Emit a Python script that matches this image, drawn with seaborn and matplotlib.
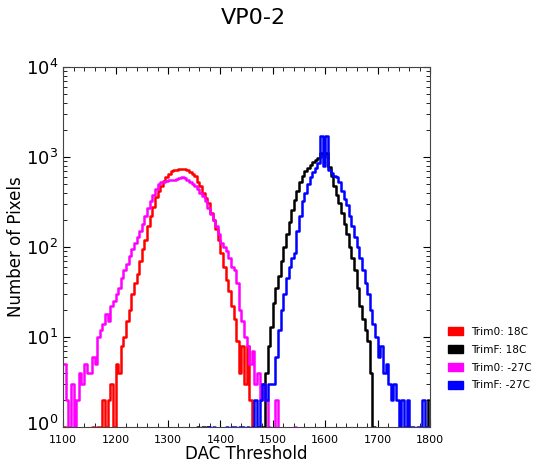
import numpy as np
import pandas as pd
import matplotlib
matplotlib.use("Agg")
import matplotlib.pyplot as plt
import matplotlib.transforms as mtransforms
from matplotlib.patches import Patch
from matplotlib.ticker import MultipleLocator, LogLocator, NullFormatter, FixedLocator
import seaborn as sns

# bin left edges (DAC), 5-DAC bins from 1100 to 1795
bin_start = 1100
bin_width = 5

trim0_18C = [
    1, 0, 0, 0, 0, 0, 0, 0, 0, 0,          # 1100-1145
    0, 1, 0, 1, 0, 2, 1, 2, 3, 1,          # 1150-1195
    5, 4, 8, 10, 15, 20, 30, 40, 50, 70,   # 1200-1245
    95, 120, 170, 220, 280, 360, 420, 480, 540, 600,   # 1250-1295
    650, 700, 720, 710, 730, 740, 740, 720, 680, 650,  # 1300-1345
    620, 530, 470, 400, 350, 310, 240, 200, 160, 120,  # 1350-1395
    86, 60, 43, 32, 22, 16, 9, 4, 8, 3,    # 1400-1445
    8, 2, 1, 0, 0, 0, 0, 0, 0, 0,          # 1450-1495
    0, 0, 0, 0, 0, 0, 0, 0, 0, 0,          # 1500-1545
    0, 0, 0, 0, 0, 0, 0, 0, 0, 0,          # 1550-1595
    0, 0, 0, 0, 0, 0, 0, 0, 0, 0,          # 1600-1645
    0, 0, 0, 0, 0, 0, 0, 0, 0, 0,          # 1650-1695
    0, 0, 0, 0, 0, 0, 0, 0, 0, 0,          # 1700-1745
    0, 0, 0, 0, 0, 0, 0, 0, 0, 0,          # 1750-1795
]

trimF_18C = [
    0, 0, 0, 0, 0, 0, 0, 0, 0, 0,          # 1100-1145
    0, 0, 0, 0, 0, 0, 0, 0, 0, 0,          # 1150-1195
    0, 0, 0, 0, 0, 0, 0, 0, 0, 0,          # 1200-1245
    0, 0, 0, 0, 0, 0, 0, 0, 0, 0,          # 1250-1295
    0, 0, 0, 0, 0, 0, 0, 0, 0, 0,          # 1300-1345
    0, 1, 0, 1, 0, 1, 0, 0, 0, 0,          # 1350-1395
    0, 0, 0, 0, 0, 0, 0, 0, 0, 0,          # 1400-1445
    0, 0, 0, 0, 1, 0, 1, 4, 8, 13,         # 1450-1495
    24, 35, 48, 70, 100, 140, 190, 260, 330, 420,      # 1500-1545
    520, 620, 700, 760, 820, 880, 920, 980, 1100, 1000, # 1550-1595
    1100, 780, 620, 480, 380, 310, 240, 180, 140, 100,  # 1600-1645
    75, 55, 35, 22, 16, 12, 9, 4, 1, 0,    # 1650-1695
    0, 0, 0, 0, 0, 0, 0, 0, 0, 0,          # 1700-1745
    0, 0, 0, 0, 0, 0, 0, 0, 0, 2,          # 1750-1795
]

trim0_m27C = [
    5, 2, 1, 3, 1, 2, 4, 3, 5, 4,          # 1100-1145
    4, 6, 5, 10, 12, 14, 18, 15, 22, 25,   # 1150-1195
    30, 35, 45, 55, 65, 80, 95, 110, 130, 150,         # 1200-1245
    180, 220, 270, 320, 380, 440, 500, 520, 530, 540,  # 1250-1295
    550, 560, 560, 570, 580, 600, 590, 560, 530, 500,  # 1300-1345
    470, 440, 400, 370, 320, 270, 230, 200, 170, 140,  # 1350-1395
    110, 100, 90, 75, 60, 55, 40, 20, 15, 10,          # 1400-1445
    8, 5, 7, 3, 4, 2, 3, 2, 1, 0,          # 1450-1495
    0, 2, 0, 0, 0, 0, 0, 0, 1, 0,          # 1500-1545
    0, 0, 0, 0, 0, 0, 0, 0, 0, 0,          # 1550-1595
    0, 0, 0, 0, 0, 0, 0, 0, 0, 0,          # 1600-1645
    0, 0, 0, 0, 0, 0, 0, 0, 0, 0,          # 1650-1695
    0, 0, 0, 0, 0, 0, 0, 0, 0, 0,          # 1700-1745
    0, 0, 0, 0, 0, 0, 0, 0, 0, 0,          # 1750-1795
]

trimF_m27C = [
    0, 0, 0, 0, 0, 0, 0, 0, 0, 0,          # 1100-1145
    0, 0, 0, 0, 0, 0, 0, 0, 0, 0,          # 1150-1195
    0, 0, 0, 0, 0, 0, 0, 0, 0, 0,          # 1200-1245
    0, 0, 0, 0, 0, 0, 0, 0, 0, 0,          # 1250-1295
    0, 0, 0, 0, 0, 0, 0, 0, 0, 0,          # 1300-1345
    0, 0, 0, 0, 0, 1, 0, 1, 0, 0,          # 1350-1395
    0, 0, 1, 0, 1, 1, 0, 1, 1, 0,          # 1400-1445
    1, 0, 1, 2, 1, 2, 3, 2, 3, 3,          # 1450-1495
    3, 6, 12, 20, 30, 45, 60, 75, 85, 150, # 1500-1545
    220, 320, 400, 500, 600, 680, 760, 850, 1700, 800,  # 1550-1595
    1700, 720, 660, 620, 600, 520, 420, 340, 290, 220,  # 1600-1645
    170, 130, 100, 75, 55, 40, 30, 20, 14, 10,          # 1650-1695
    6, 8, 4, 5, 3, 2, 3, 2, 1, 2,          # 1700-1745
    1, 2, 1, 1, 0, 1, 1, 2, 1, 0,          # 1750-1795
]

series_labels = ["Trim0: 18C", "TrimF: 18C", "Trim0: -27C", "TrimF: -27C"]
series_colors = ["#ff0000", "#000000", "#ff00ff", "#0000ff"]
series_values = [trim0_18C, trimF_18C, trim0_m27C, trimF_m27C]

x_ticks = [1100, 1200, 1300, 1400, 1500, 1600, 1700, 1800]
y_ticks = [1, 10, 100, 1000, 10000]

dac = bin_start + bin_width * np.arange(len(trim0_18C))

fig = plt.figure(figsize=(5.35, 4.65), dpi=100)
ax = fig.add_axes([0.118, 0.082, 0.686, 0.774])

for lab, col, vals in zip(series_labels, series_colors, series_values):
    df = pd.DataFrame({"DAC": dac, "count": np.asarray(vals, dtype=float)})
    sns.lineplot(data=df, x="DAC", y="count", ax=ax, color=col, lw=1.8,
                 drawstyle="steps-post", legend=False)

ax.set_yscale("log")
ax.set_ylim(1, 1e4)
ax.set_xlim(1100, 1800)
ax.set_xticks(x_ticks)
ax.set_xticklabels([str(t) for t in x_ticks], fontsize=8)
ax.yaxis.set_major_locator(FixedLocator(y_ticks))
ax.xaxis.set_minor_locator(MultipleLocator(20))
ax.yaxis.set_minor_locator(LogLocator(base=10, subs=np.arange(2, 10)))
ax.yaxis.set_minor_formatter(NullFormatter())
ax.tick_params(axis="y", which="major", labelsize=13)
ax.tick_params(axis="x", which="major", pad=6)
ax.tick_params(which="both", direction="in", top=True, right=True)
ax.tick_params(which="major", length=5)
ax.tick_params(which="minor", length=3)
for s in ax.spines.values():
    s.set_color("#444444")

# nudge the lowest y label up a touch so it clears the "1100" label
first_tick = ax.yaxis.get_major_ticks()[0]
first_tick.label1.set_transform(first_tick.label1.get_transform() +
                                mtransforms.ScaledTranslation(0, 3 / 72, fig.dpi_scale_trans))

ax.set_xlabel("DAC Threshold", fontsize=12, labelpad=0)
ax.set_ylabel("Number of Pixels", fontsize=12, labelpad=1)

fig.text(0.473, 0.962, "VP0-2", fontsize=16, ha="center", va="center")

handles = [Patch(facecolor=c, edgecolor=c) for c in series_colors]
ax.legend(handles, series_labels, loc="upper left", bbox_to_anchor=(1.036, 0.29),
          frameon=False, fontsize=7.6, handlelength=1.45, handleheight=0.8,
          labelspacing=0.75, borderaxespad=0)

fig.savefig("out.png", dpi=100)
